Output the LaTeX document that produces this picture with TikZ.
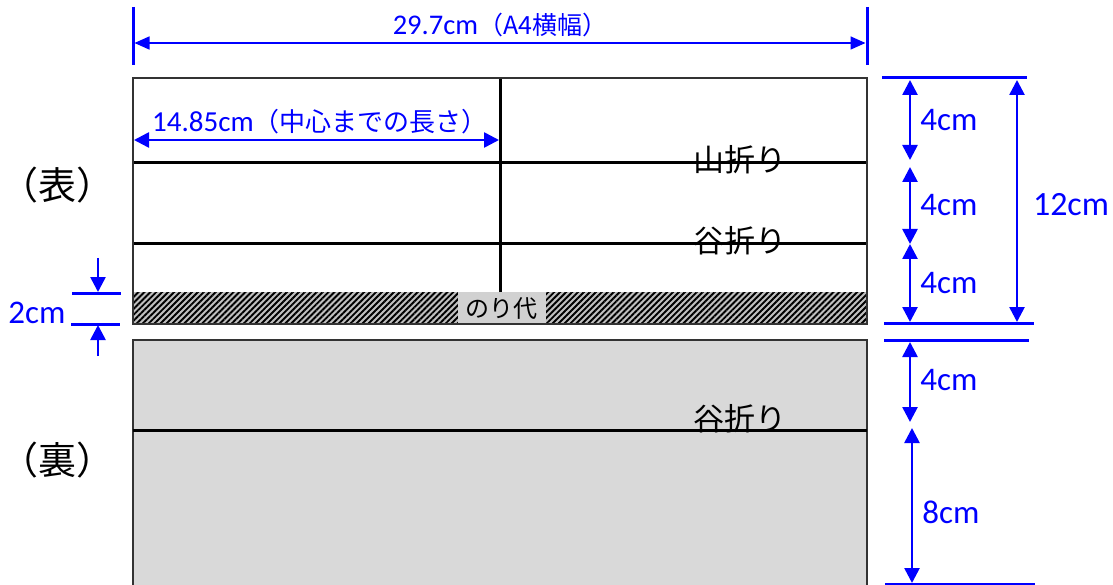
\documentclass[tikz,border=0pt]{standalone}
\usepackage{fontspec}
\setmainfont{Carlito}
\newfontfamily\jp{Noto Sans CJK JP}
\usetikzlibrary{arrows.meta,patterns.meta}
\definecolor{dimblue}{RGB}{0,0,255}
\definecolor{backgrey}{RGB}{217,217,217}
\tikzset{
  dimarrow/.style={draw=dimblue,line width=2.6pt,{Triangle[length=15pt,width=15pt]}-{Triangle[length=15pt,width=15pt]}},
  dimhead/.style={draw=dimblue,line width=2.6pt,-{Triangle[length=15pt,width=15pt]}},
  extline/.style={draw=dimblue,line width=3pt},
  dimlabel/.style={text=dimblue,font=\fontsize{33}{33}\selectfont,inner sep=0pt},
  panel/.style={draw=black!80,line width=1.4pt},
  fold/.style={draw=black,line width=3pt},
  foldlabel/.style={font=\jp\fontsize{31}{31}\selectfont,inner sep=0pt},
  sidelabel/.style={font=\jp\fontsize{38}{38}\selectfont,inner sep=0pt},
}
\begin{document}
\begin{tikzpicture}[x=1pt,y=-1pt]
\useasboundingbox (0,0) rectangle (1113,585);
% ---------- front panel ----------
\path[fill=white] (133,78) rectangle (867,324);
\path[fill=white!75!black] (133,292) rectangle (867,324);
\path[pattern={Lines[angle=45,distance=4.2pt,line width=1.9pt]},pattern color=black] (133,292) rectangle (867,324);
\path[fill=black!18] (458,292) rectangle (546,324);
\node[font=\jp\fontsize{24}{24}\selectfont,inner sep=0pt] (nori) at (501,309) {のり代};
\node[foldlabel] (yama) at (740,160) {山折り};
\node[foldlabel] (tani1) at (740,241) {谷折り};
\coordinate (ctop) at (500,78);
\coordinate (cbot) at (500,292);
\coordinate (l1a) at (133,163); \coordinate (l1b) at (867,163);
\coordinate (l2a) at (133,244); \coordinate (l2b) at (867,244);
\draw[fold] (ctop) -- (cbot);
\draw[fold] (l1a) -- (l1b);
\draw[fold] (l2a) -- (l2b);
\draw[panel] (133,78) rectangle (867,324);
% ---------- back panel ----------
\draw[panel,fill=backgrey] (133,340) rectangle (867,586);
\node[foldlabel] (tani2) at (740,419) {谷折り};
\coordinate (l3a) at (133,430); \coordinate (l3b) at (867,430);
\draw[fold] (l3a) -- (l3b);
% ---------- side labels ----------
\node[sidelabel] (omote) at (57,185) {（表）};
\node[sidelabel] (ura) at (57,460) {（裏）};
% ---------- top dimension ----------
\coordinate (tl1) at (133,7); \coordinate (tl2) at (133,65);
\coordinate (tr1) at (867,7); \coordinate (tr2) at (867,65);
\draw[extline] (tl1) -- (tl2);
\draw[extline] (tr1) -- (tr2);
\coordinate (ta) at (134.5,43); \coordinate (tb) at (865.5,43);
\draw[draw=dimblue,line width=1.6pt,{Triangle[length=15pt,width=13pt]}-{Triangle[length=15pt,width=13pt]}] (ta) -- (tb);
\node[text=dimblue,inner sep=0pt,anchor=base] (w297) at (500,35) {\fontsize{28.5}{28.5}\selectfont 29.7cm{\jp\fontsize{25}{25}\selectfont （A4横幅）}};
% ---------- half width ----------
\coordinate (ha) at (134,140); \coordinate (hb) at (499,140);
\draw[draw=dimblue,line width=2.6pt,{Triangle[length=15pt,width=15pt]}-{Triangle[length=15pt,width=15pt]}] (ha) -- (hb);
\node[text=dimblue,inner sep=0pt,anchor=base] (w1485) at (320,132) {\fontsize{29}{29}\selectfont 14.85cm{\jp\fontsize{26}{26}\selectfont （中心までの長さ）}};
% ---------- right dimensions (front) ----------
\coordinate (r1a) at (882,78); \coordinate (r1b) at (1027,78);
\coordinate (r2a) at (884,323); \coordinate (r2b) at (1034,323);
\coordinate (r3a) at (884,340); \coordinate (r3b) at (1029,340);
\coordinate (r4a) at (885,584); \coordinate (r4b) at (1035,584);
\draw[extline] (r1a) -- (r1b);
\draw[extline] (r2a) -- (r2b);
\draw[extline] (r3a) -- (r3b);
\draw[draw=dimblue,line width=1.6pt] (r4a) -- (r4b);
\coordinate (d1a) at (910,80); \coordinate (d1b) at (910,160);
\coordinate (d2a) at (910,167); \coordinate (d2b) at (910,244);
\coordinate (d3a) at (910,244); \coordinate (d3b) at (910,322);
\draw[dimarrow] (d1a) -- (d1b);
\draw[dimarrow] (d2a) -- (d2b);
\draw[dimarrow] (d3a) -- (d3b);
\node[dimlabel] (c4a) at (949,120) {4cm};
\node[dimlabel] (c4b) at (949,205) {4cm};
\node[dimlabel] (c4c) at (949,283) {4cm};
\coordinate (d12a) at (1017,80); \coordinate (d12b) at (1017,322);
\draw[dimarrow] (d12a) -- (d12b);
\node[dimlabel,font=\fontsize{34}{34}\selectfont] (c12) at (1071,205) {12cm};
% ---------- right dimensions (back) ----------
\coordinate (d4a) at (910,342); \coordinate (d4b) at (910,422);
\coordinate (d8a) at (912,428); \coordinate (d8b) at (912,583);
\draw[dimarrow] (d4a) -- (d4b);
\draw[dimarrow] (d8a) -- (d8b);
\node[dimlabel] (c4d) at (949,380) {4cm};
\node[dimlabel] (c8) at (951,512) {8cm};
% ---------- 2cm glue margin ----------
\coordinate (g1a) at (72,293); \coordinate (g1b) at (121,293);
\coordinate (g2a) at (71,324); \coordinate (g2b) at (120,324);
\draw[extline] (g1a) -- (g1b);
\draw[extline] (g2a) -- (g2b);
\coordinate (ga0) at (98,258); \coordinate (ga1) at (98,292);
\coordinate (gb0) at (98,356); \coordinate (gb1) at (98,325);
\draw[dimhead] (ga0) -- (ga1);
\draw[dimhead] (gb0) -- (gb1);
\node[dimlabel] (c2) at (37,313) {2cm};
\end{tikzpicture}
\end{document}
